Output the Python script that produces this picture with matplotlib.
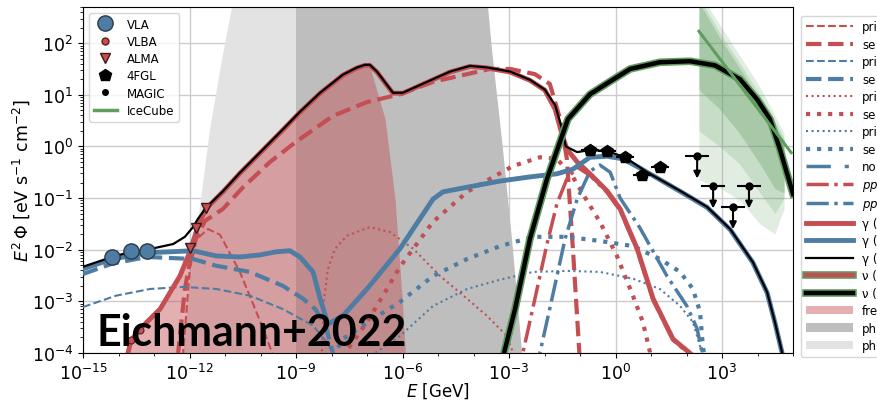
import numpy as np
import matplotlib
matplotlib.use("Agg")
import matplotlib.pyplot as plt
import matplotlib.patheffects as pe
from matplotlib.lines import Line2D
from matplotlib.patches import Patch
from matplotlib.ticker import FixedLocator, LogFormatterMathtext, NullFormatter, LogLocator

# ---------------- data (log10 E [GeV], log10 E^2 Phi [eV s^-1 cm^-2]) ----------------
# photon fields (filled up to the curve)
pf_sb_logE = [-12.3, -12.04, -11.90, -11.70, -11.42, -11.08, -10.80, -10.0, -9.0, -8.5]
pf_sb_logF = [-5.0, -2.95, -2.18, -1.15, 0.34, 1.7, 2.7, 3.5, 3.5, 3.0]
pf_agn_logE = [-9.0, -9.0, -5.0, -4.2, -3.59, -3.48, -3.17, -2.89, -2.63, -2.55]
pf_agn_logF = [-5.0, 4.0, 4.0, 3.5, 2.7, 1.88, -0.05, -1.98, -4.0, -5.0]

# free-free component
ff_logE = [-13.75, -13.65, -13.39, -12.83, -12.27, -11.99, -11.76, -11.54, -11.06, -10.58,
           -9.93, -9.37, -8.89, -8.32, -7.68, -7.28, -7.06, -6.9, -6.49, -6.21, -6.01, -5.9]
ff_logF = [-4.05, -3.76, -3.53, -3.15, -2.51, -2.04, -1.54, -1.21, -0.88, -0.52,
           -0.07, 0.32, 0.66, 1.03, 1.38, 1.52, 1.57, 1.5, 0.53, -1.02, -2.95, -4.2]

# starburst components
psyn_sb_logE = [-12.2, -12.18, -11.99, -11.79, -11.48, -11.14, -10.58, -10.15, -9.87, -9.62]
psyn_sb_logF = [-4.5, -4.0, -2.37, -1.79, -1.60, -1.71, -2.43, -3.15, -3.63, -4.1]
ssyn_sb_logE = [-12.35, -12.32, -12.13, -11.9, -11.56, -11.06, -10.49, -9.73, -9.0, -7.96,
                -7.0, -6.07, -5.14, -4.18, -3.54, -2.97, -2.27, -1.85, -1.56, -1.37, -1.20, -1.0]
ssyn_sb_logF = [-4.5, -4.0, -2.76, -1.89, -1.44, -1.21, -0.79, -0.30, 0.09, 0.59,
                0.86, 1.01, 1.25, 1.40, 1.50, 1.50, 1.40, 1.21, 0.53, -0.24, -1.98, -4.2]
pic_sb_logE = [-8.28, -8.27, -8.21, -8.10, -7.90, -7.56, -6.92, -6.35, -5.70, -4.94,
               -4.18, -3.62, -3.06, -2.83]
pic_sb_logF = [-4.5, -4.0, -2.95, -2.37, -1.98, -1.73, -1.56, -1.66, -1.98, -2.51,
               -2.95, -3.28, -3.67, -4.1]
sic_sb_logE = [-7.7, -7.62, -7.34, -7.0, -6.55, -6.07, -5.14, -4.18, -3.54, -2.89, -2.13,
               -1.65, -1.20, -0.92, -0.44, 0.04, 0.49, 0.77, 0.97, 1.0]
sic_sb_logF = [-4.3, -4.0, -3.73, -3.40, -2.89, -2.33, -1.46, -0.88, -0.63, -0.38, -0.21,
               -0.24, -0.59, -0.92, -1.46, -2.12, -2.89, -3.40, -3.98, -4.2]
pp_sb_logE = [-2.7, -2.61, -2.27, -1.93, -1.65, -1.37, -1.08, -0.72, -0.24, 0.13, 0.61,
              1.06, 1.62, 2.18]
pp_sb_logF = [-4.5, -4.0, -2.95, -1.89, -1.11, -0.63, -0.40, -0.56, -0.89, -1.24, -2.01,
              -2.98, -3.75, -4.08]
gam_sb_logE = [-13.75, -13.65, -13.39, -12.83, -12.27, -11.99, -11.76, -11.54, -11.06, -10.58,
               -9.93, -9.37, -8.89, -8.32, -7.68, -7.28, -7.06, -6.92, -6.72, -6.27, -5.99,
               -5.31, -4.66, -4.10, -3.62, -2.97, -2.41, -1.99, -1.70, -1.51, -1.37, -1.08,
               -0.72, -0.24, 0.13, 0.61, 1.06, 1.62, 2.18]
gam_sb_logF = [-4.05, -3.76, -3.53, -3.15, -2.51, -2.04, -1.54, -1.21, -0.88, -0.52,
               -0.07, 0.32, 0.66, 1.03, 1.38, 1.52, 1.57, 1.57, 1.44, 1.03, 1.03,
               1.24, 1.44, 1.55, 1.52, 1.44, 1.28, 1.09, 0.72, 0.24, -0.05, -0.30,
               -0.53, -0.86, -1.21, -1.98, -2.95, -3.73, -4.05]

# AGN corona components
psyn_c_logE = [-15.0, -14.07, -13.11, -12.18, -11.25, -10.30, -9.37, -8.52, -8.10, -7.96, -7.9]
psyn_c_logF = [-3.11, -2.89, -2.76, -2.72, -2.76, -2.89, -3.15, -3.47, -3.82, -4.0, -4.3]
ssyn_c_logE = [-15.0, -14.18, -13.2, -11.9, -11.25, -10.30, -9.37, -8.80, -8.46, -8.18, -7.96, -7.9]
ssyn_c_logF = [-2.47, -2.27, -2.14, -2.18, -2.31, -2.43, -2.70, -2.95, -3.15, -3.44, -4.0, -4.3]
pic_c_logE = [-6.9, -6.77, -6.07, -5.14, -4.18, -3.25, -2.32, -1.37, -0.44, 0.49, 1.25,
              1.82, 2.18, 2.38, 2.44, 2.46]
pic_c_logF = [-4.3, -4.0, -3.67, -3.09, -2.76, -2.58, -2.43, -2.41, -2.43, -2.56, -2.76,
              -3.09, -3.40, -3.86, -4.0, -4.2]
sic_c_logE = [-8.0, -7.90, -7.68, -6.92, -6.07, -5.14, -4.18, -3.25, -2.32, -1.37, -0.44,
              0.49, 1.25, 1.82, 2.18, 2.38, 2.46, 2.49, 2.5]
sic_c_logF = [-4.3, -4.0, -3.73, -3.38, -3.01, -2.51, -2.18, -1.93, -1.75, -1.75, -1.83,
              -1.93, -2.18, -2.43, -2.76, -3.20, -3.86, -4.0, -4.2]
pp_c_logE = [-2.2, -2.13, -1.79, -1.42, -1.08, -0.72, -0.44, -0.15, 0.13, 0.69, 1.45,
             2.01, 2.30, 2.44, 2.46]
pp_c_logF = [-4.4, -4.0, -2.95, -1.79, -1.02, -0.48, -0.36, -0.50, -1.0, -1.58, -2.51,
             -3.09, -3.53, -4.0, -4.2]
gam_c_logE = [-15.0, -14.18, -13.2, -11.9, -11.25, -10.58, -10.01, -9.56, -9.17, -8.89,
              -8.52, -8.32, -8.10, -7.68, -7.0, -6.07, -5.14, -4.86, -4.18, -3.25, -2.41,
              -1.65, -1.20, -0.72, -0.24, 0.21, 0.69, 1.82, 2.58, 3.23, 3.87, 4.27, 4.49,
              4.69, 4.75]
gam_c_logF = [-2.37, -2.18, -2.06, -2.02, -2.12, -2.14, -2.10, -2.04, -2.02, -2.14,
              -2.43, -2.95, -3.44, -3.28, -2.76, -1.98, -1.02, -0.88, -0.79, -0.67, -0.59,
              -0.53, -0.44, -0.21, -0.19, -0.24, -0.42, -0.87, -1.18, -1.61, -2.25, -2.83,
              -3.41, -3.99, -4.2]

# totals
gam_tot_logE = [-15.0, -14.18, -13.65, -13.2, -12.46, -12.13, -11.9, -11.76, -11.54, -11.06,
                -10.58, -9.93, -9.37, -8.89, -8.32, -7.68, -7.28, -7.06, -6.92, -6.72, -6.27,
                -5.99, -5.31, -4.66, -4.10, -3.62, -2.97, -2.41, -1.99, -1.70, -1.51, -1.40,
                -1.08, -0.72, -0.24, 0.27, 0.89, 1.82, 2.58, 3.23, 3.87, 4.27, 4.49, 4.69, 4.75]
gam_tot_logF = [-2.33, -2.14, -2.04, -2.0, -1.89, -1.75, -1.56, -1.40, -1.19, -0.87,
                -0.51, -0.06, 0.33, 0.67, 1.04, 1.39, 1.53, 1.58, 1.58, 1.45, 1.04,
                1.04, 1.25, 1.45, 1.56, 1.53, 1.45, 1.29, 1.10, 0.80, 0.35, 0.0,
                -0.11, -0.07, -0.09, -0.21, -0.50, -0.86, -1.17, -1.60, -2.24, -2.82,
                -3.40, -3.98, -4.2]
nu_tot_logE = [-3.2, -3.14, -2.83, -2.41, -1.93, -1.34, -0.72, -0.15, 0.41, 1.25, 2.10,
               2.80, 3.51, 3.99, 4.35, 4.63, 5.0]
nu_tot_logF = [-4.4, -4.0, -3.15, -1.79, -0.63, 0.53, 1.01, 1.26, 1.50, 1.63, 1.65,
               1.57, 1.30, 0.91, 0.53, -0.05, -0.92]
nu_sb_logE = [-3.2, -2.5, -1.5, 0.0]
nu_sb_logF = [-6.0, -5.5, -5.2, -5.5]

# measurements
vla_logE = [-14.18, -13.65, -13.2]
vla_logF = [-2.14, -2.02, -2.02]
vlba_logE = [-13.65, -13.39]
vlba_logF = [-3.74, -3.55]
alma_logE = [-11.99, -11.82, -11.54]
alma_logF = [-1.97, -1.58, -1.19]
fgl_logE = [-0.72, -0.24, 0.27, 0.75, 1.25]
fgl_logF = [-0.07, -0.09, -0.21, -0.55, -0.40]
fgl_dlogE = 0.25
magic_logE = [2.30, 2.75, 3.31, 3.76]
magic_logF = [-0.19, -0.77, -1.17, -0.77]
magic_dlogE = 0.33

# IceCube best fit and uncertainty bands
ic_logE = [2.35, 4.95]
ic_logF = [2.23, -0.12]
ic_band_logE = [2.35, 2.94, 3.51, 4.07, 4.49, 4.75]
ic_out_hi = [3.0, 2.35, 1.75, 1.15, 0.6, 0.25]
ic_out_lo = [-0.65, -0.8, -1.05, -1.5, -1.7, -1.2]
ic_mid_hi = [2.9, 2.2, 1.6, 1.0, 0.5, 0.15]
ic_mid_lo = [0.3, 0.0, -0.35, -0.9, -1.3, -1.0]
ic_in_hi = [2.8, 2.1, 1.5, 0.9, 0.4, 0.1]
ic_in_lo = [1.1, 0.72, 0.24, -0.34, -0.82, -0.9]

# legend entries as far as they fit on the canvas
model_labels = ["pri", "se", "pri", "se", "pri", "se", "pri", "se", "no",
                r"$pp$", r"$pp$", "γ (", "γ (", "γ (", "ν (", "ν (", "fre", "ph", "ph"]

# ---------------- style ----------------
RED = "#c44e52"
BLUE = "#4f7ca3"
GREEN = "#5f9e5f"

plt.rcParams["font.family"] = ["DejaVu Sans"]
plt.rcParams["mathtext.fontset"] = "dejavusans"

fig = plt.figure(figsize=(8.77, 4.02), dpi=100)
ax = fig.add_axes([83 / 877, 48 / 402, 710 / 877, 346 / 402])


def P(le, lf):
    return 10.0 ** np.asarray(le), 10.0 ** np.asarray(lf)


# filled regions
x, y = P(pf_sb_logE, pf_sb_logF)
ax.fill_between(x, 1e-6, y, color="#e3e3e3", lw=0, zorder=1)
x, y = P(pf_agn_logE, pf_agn_logF)
ax.fill_between(x, 1e-6, y, color="#bebebe", lw=0, zorder=1.1)
x, y = P(ff_logE, ff_logF)
ax.fill_between(x, 1e-6, y, color=RED, alpha=0.45, lw=0, zorder=1.2)

# IceCube bands
xb = 10.0 ** np.asarray(ic_band_logE)
for lo, hi, a, z in [(ic_out_lo, ic_out_hi, 0.18, 1.5), (ic_mid_lo, ic_mid_hi, 0.2, 1.55),
                     (ic_in_lo, ic_in_hi, 0.3, 1.6)]:
    ax.fill_between(xb, 10.0 ** np.asarray(lo), 10.0 ** np.asarray(hi),
                    color=GREEN, alpha=a, lw=0, zorder=z)

nodash = (0, (7, 4, 1.2, 4, 1.2, 4))
styles = [
    dict(color=RED, lw=1.5, ls="--"),
    dict(color=RED, lw=3, ls="--"),
    dict(color=BLUE, lw=1.5, ls="--"),
    dict(color=BLUE, lw=3, ls="--"),
    dict(color=RED, lw=1.5, ls=":"),
    dict(color=RED, lw=3, ls=":"),
    dict(color=BLUE, lw=1.5, ls=":"),
    dict(color=BLUE, lw=3, ls=":"),
    dict(color=BLUE, lw=2.5, ls=nodash),
    dict(color=RED, lw=2.5, ls="-."),
    dict(color=BLUE, lw=2.5, ls="-."),
    dict(color=RED, lw=3.5, ls="-"),
    dict(color=BLUE, lw=3.5, ls="-"),
    dict(color="black", lw=1.6, ls="-"),
]
curves = [
    (psyn_sb_logE, psyn_sb_logF), (ssyn_sb_logE, ssyn_sb_logF),
    (psyn_c_logE, psyn_c_logF), (ssyn_c_logE, ssyn_c_logF),
    (pic_sb_logE, pic_sb_logF), (sic_sb_logE, sic_sb_logF),
    (pic_c_logE, pic_c_logF), (sic_c_logE, sic_c_logF),
    None,
    (pp_sb_logE, pp_sb_logF), (pp_c_logE, pp_c_logF),
    (gam_sb_logE, gam_sb_logF), (gam_c_logE, gam_c_logF),
    (gam_tot_logE, gam_tot_logF),
]
for cv, kw in zip(curves, styles):
    if cv is None:
        continue
    x, y = P(*cv)
    ax.plot(x, y, zorder=3, **kw)

glow = [pe.Stroke(linewidth=5.5, foreground=GREEN), pe.Normal()]
x, y = P(nu_sb_logE, nu_sb_logF)
ax.plot(x, y, color=RED, lw=3.2, path_effects=glow, zorder=3.2)
x, y = P(nu_tot_logE, nu_tot_logF)
ax.plot(x, y, color="black", lw=3.2, path_effects=glow, zorder=3.2)

x, y = P(ic_logE, ic_logF)
ax.plot(x, y, color=GREEN, lw=2.2, zorder=3.3)

# measurements
x, y = P(vla_logE, vla_logF)
ax.plot(x, y, "o", ms=11, mfc=BLUE, mec="#2b3a48", mew=1, zorder=5)
x, y = P(vlba_logE, vlba_logF)
ax.plot(x, y, "o", ms=5, mfc=RED, mec="#5a2020", mew=0.8, zorder=5)
x, y = P(alma_logE, alma_logF)
ax.plot(x, y, "v", ms=7, mfc=RED, mec="#3a1a1a", mew=1, zorder=5)
x, y = P(fgl_logE, fgl_logF)
ax.errorbar(x, y, xerr=[x - x / 10 ** fgl_dlogE, x * 10 ** fgl_dlogE - x], fmt="p",
            ms=9, color="black", elinewidth=1.5, capsize=0, zorder=5)
x, y = P(magic_logE, magic_logF)
ax.errorbar(x, y, xerr=[x - x / 10 ** magic_dlogE, x * 10 ** magic_dlogE - x], fmt="o",
            ms=5, color="black", elinewidth=1.5, capsize=0, zorder=5)
for xi, yi in zip(x, y):
    ax.annotate("", xy=(xi, yi / 2.7), xytext=(xi, yi),
                arrowprops=dict(arrowstyle="-|>", color="black", lw=1.5,
                                mutation_scale=10, shrinkA=0, shrinkB=0), zorder=5)

# axes
ax.set_xscale("log")
ax.set_yscale("log")
ax.set_xlim(1e-15, 1e5)
ax.set_ylim(1e-4, 10 ** 2.7)
ax.xaxis.set_major_locator(FixedLocator([10.0 ** k for k in range(-15, 4, 3)]))
ax.xaxis.set_major_formatter(LogFormatterMathtext())
ax.xaxis.set_minor_locator(FixedLocator([10.0 ** k for k in range(-15, 6)]))
ax.xaxis.set_minor_formatter(NullFormatter())
ax.yaxis.set_major_locator(FixedLocator([10.0 ** k for k in range(-4, 3)]))
ax.yaxis.set_major_formatter(LogFormatterMathtext())
ax.yaxis.set_minor_locator(LogLocator(base=10, subs=np.arange(2, 10), numticks=50))
ax.yaxis.set_minor_formatter(NullFormatter())
ax.tick_params(labelsize=12.5)
ax.grid(True, which="major", color="#cccccc", lw=1)
ax.set_axisbelow(True)
ax.set_xlabel(r"$E$ [GeV]", fontsize=12)
ax.set_ylabel(r"$E^2\,\Phi$ [eV s$^{-1}$ cm$^{-2}$]", fontsize=12.5)
ax.xaxis.set_label_coords(0.5, -0.078)
ax.yaxis.set_label_coords(-0.072, 0.5)

# legends
obs_handles = [
    Line2D([], [], ls="", marker="o", ms=11, mfc=BLUE, mec="#2b3a48", label="VLA"),
    Line2D([], [], ls="", marker="o", ms=5, mfc=RED, mec="#5a2020", label="VLBA"),
    Line2D([], [], ls="", marker="v", ms=7, mfc=RED, mec="#3a1a1a", label="ALMA"),
    Line2D([], [], ls="", marker="p", ms=9, color="black", label="4FGL"),
    Line2D([], [], ls="", marker="o", ms=4, color="black", label="MAGIC"),
    Line2D([], [], color=GREEN, lw=2.5, label="IceCube"),
]
leg1 = ax.legend(handles=obs_handles, loc="upper left", fontsize=8.5,
                 borderaxespad=0.5, labelspacing=0.36, framealpha=0.8)
ax.add_artist(leg1)

model_handles = [Line2D([], [], label=lab, **kw) for lab, kw in zip(model_labels, styles)]
model_handles += [
    Line2D([], [], color=RED, lw=3.2, path_effects=glow, label=model_labels[14]),
    Line2D([], [], color="black", lw=3.2, path_effects=glow, label=model_labels[15]),
    Patch(facecolor=RED, alpha=0.45, lw=0, label=model_labels[16]),
    Patch(facecolor="#bebebe", lw=0, label=model_labels[17]),
    Patch(facecolor="#e3e3e3", lw=0, label=model_labels[18]),
]
ax.legend(handles=model_handles, loc="upper left", bbox_to_anchor=(1.011, 0.975),
          borderaxespad=0, fontsize=8.5, handlelength=4.0, labelspacing=0.38,
          framealpha=0.8)

# citation tag
t = fig.text(97 / 877, 1 - 346 / 402, "Eichmann+2022", family="Lato",
             fontweight="bold", fontsize=34, color="black", va="baseline", zorder=10)
fig.canvas.draw()
w = t.get_window_extent().width
t.set_fontsize(34 * 311 / w)

fig.savefig("out.png", dpi=100)
